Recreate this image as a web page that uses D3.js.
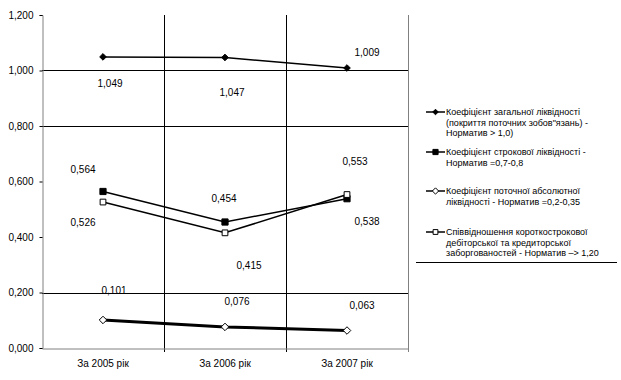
<!DOCTYPE html>
<html>
<head>
<meta charset="utf-8">
<script src="https://cdn.jsdelivr.net/npm/d3@7"></script>
<style>
  html, body { margin: 0; padding: 0; background: #fff; }
  svg { display: block; font-family: 'Liberation Sans', Arial, sans-serif; }
</style>
</head>
<body>
<div id="chart"></div>
<script>
// ── data ──
const categories = ['За 2005 рік', 'За 2006 рік', 'За 2007 рік'];
const totalLiquidity = [1.049, 1.047, 1.009];
const termLiquidity = [0.564, 0.454, 0.538];
const absLiquidity = [0.101, 0.076, 0.063];
const debtRatio = [0.526, 0.415, 0.553];
const yTicks = [0, 0.2, 0.4, 0.6, 0.8, 1.0, 1.2];
const gridValues = [0.2, 0.8, 1.0];
const legendLines = [
  ['Коефіцієнт загальної ліквідності', '(покриття поточних зобов"язань) -', 'Норматив > 1,0)'],
  ['Коефіцієнт строкової ліквідності -', 'Норматив =0,7-0,8'],
  ['Коефіцієнт поточної абсолютної', 'ліквідності - Норматив =0,2-0,35'],
  ['Співвідношення короткострокової', 'дебіторської та кредиторської', 'заборгованостей - Норматив –> 1,20']
];

const W = 621, H = 380;
const plot = { left: 42, right: 408, top: 15, bottom: 348 };

const svg = d3.select('#chart').append('svg')
  .attr('width', W).attr('height', H)
  .attr('viewBox', `0 0 ${W} ${H}`);

const x = d3.scaleBand().domain(categories).range([plot.left, plot.right]).padding(0);
const y = d3.scaleLinear().domain([0, 1.2]).range([plot.bottom, plot.top]);
const cx = c => x(c) + x.bandwidth() / 2;
const fmt = v => d3.format('.3f')(v).replace('.', ',');

// gridlines
svg.append('g').selectAll('line.h').data(gridValues).join('line')
  .attr('x1', plot.left).attr('x2', plot.right)
  .attr('y1', d => Math.round(y(d)) + 0.5).attr('y2', d => Math.round(y(d)) + 0.5)
  .attr('stroke', '#000');

svg.append('g').selectAll('line.v').data(categories.slice(1)).join('line')
  .attr('x1', d => Math.round(x(d)) + 0.5).attr('x2', d => Math.round(x(d)) + 0.5)
  .attr('y1', plot.top).attr('y2', plot.bottom + 4)
  .attr('stroke', '#000');

// right border
svg.append('line')
  .attr('x1', plot.right + 0.5).attr('x2', plot.right + 0.5)
  .attr('y1', plot.top).attr('y2', plot.bottom + 4)
  .attr('stroke', '#808080');

// y axis
svg.append('g')
  .attr('transform', `translate(${plot.left + 0.5},0)`)
  .call(d3.axisLeft(y).tickValues(yTicks).tickSize(3).tickPadding(6).tickFormat(fmt))
  .call(g => g.select('.domain').attr('stroke', '#808080'))
  .call(g => g.selectAll('.tick line').attr('stroke', '#000'))
  .call(g => g.selectAll('.tick text')
    .attr('fill', '#000')
    .attr('font-family', "'Liberation Sans', Arial, sans-serif")
    .attr('font-size', '10px'));

// x axis
svg.append('g')
  .attr('transform', `translate(0,${plot.bottom + 0.5})`)
  .call(d3.axisBottom(x).tickSize(0).tickPadding(11))
  .call(g => g.select('.domain').attr('stroke', '#808080'))
  .call(g => g.selectAll('.tick text')
    .attr('fill', '#000')
    .attr('font-family', "'Liberation Sans', Arial, sans-serif")
    .attr('font-size', '10px'));

// series
const series = [
  { values: totalLiquidity, width: 1.5, marker: 'diamond', fill: '#000', size: 28,
    labelDx: [7, 7, 20], labelDy: [27, 35, -16] },
  { values: termLiquidity, width: 1.5, marker: 'square', fill: '#000', size: 49,
    labelDx: [-20, -1, 20], labelDy: [-22, -24, 23] },
  { values: absLiquidity, width: 3, marker: 'diamond', fill: '#fff', size: 36,
    labelDx: [11, 12, 15], labelDy: [-29, -25, -25] },
  { values: debtRatio, width: 1.5, marker: 'square', fill: '#fff', size: 42,
    labelDx: [-20, 24, 8], labelDy: [20, 33, -33] }
];

const line = d3.line().x((d, i) => cx(categories[i])).y(d => y(d));
const symbolOf = m => m === 'diamond' ? d3.symbolDiamond2 : d3.symbolSquare2;

series.forEach(s => {
  svg.append('path')
    .datum(s.values)
    .attr('d', line)
    .attr('fill', 'none')
    .attr('stroke', '#000')
    .attr('stroke-width', s.width);

  svg.append('g').selectAll('path').data(s.values).join('path')
    .attr('transform', (d, i) => `translate(${cx(categories[i])},${y(d)})`)
    .attr('d', d3.symbol().type(symbolOf(s.marker)).size(s.size))
    .attr('fill', s.fill)
    .attr('stroke', '#000')
    .attr('stroke-width', 1);

  svg.append('g').selectAll('text').data(s.values).join('text')
    .attr('x', (d, i) => cx(categories[i]) + s.labelDx[i])
    .attr('y', (d, i) => y(d) + s.labelDy[i])
    .attr('text-anchor', 'middle')
    .attr('dominant-baseline', 'central')
    .attr('font-size', '10px')
    .attr('fill', '#000')
    .text(d => fmt(d));
});

// legend
const legendX = 426;
const legendTop = [112, 152, 191, 232];
const lg = svg.append('g');
series.forEach((s, i) => {
  const ly = legendTop[i];
  lg.append('line')
    .attr('x1', legendX).attr('x2', legendX + 19)
    .attr('y1', ly).attr('y2', ly)
    .attr('stroke', '#000').attr('stroke-width', 1.5);
  lg.append('path')
    .attr('transform', `translate(${legendX + 9.5},${ly})`)
    .attr('d', d3.symbol().type(symbolOf(s.marker)).size(s.size * 0.7))
    .attr('fill', s.fill).attr('stroke', '#000');
  lg.append('text')
    .attr('x', legendX + 20)
    .attr('y', ly)
    .attr('font-size', '9px')
    .attr('fill', '#000')
    .selectAll('tspan').data(legendLines[i]).join('tspan')
    .attr('x', legendX + 20)
    .attr('dy', (d, j) => j === 0 ? '0.35em' : '10.6px')
    .text(d => d);
});
lg.append('line')
  .attr('x1', 416).attr('x2', 617)
  .attr('y1', 262.5).attr('y2', 262.5)
  .attr('stroke', '#000');
</script>
</body>
</html>
